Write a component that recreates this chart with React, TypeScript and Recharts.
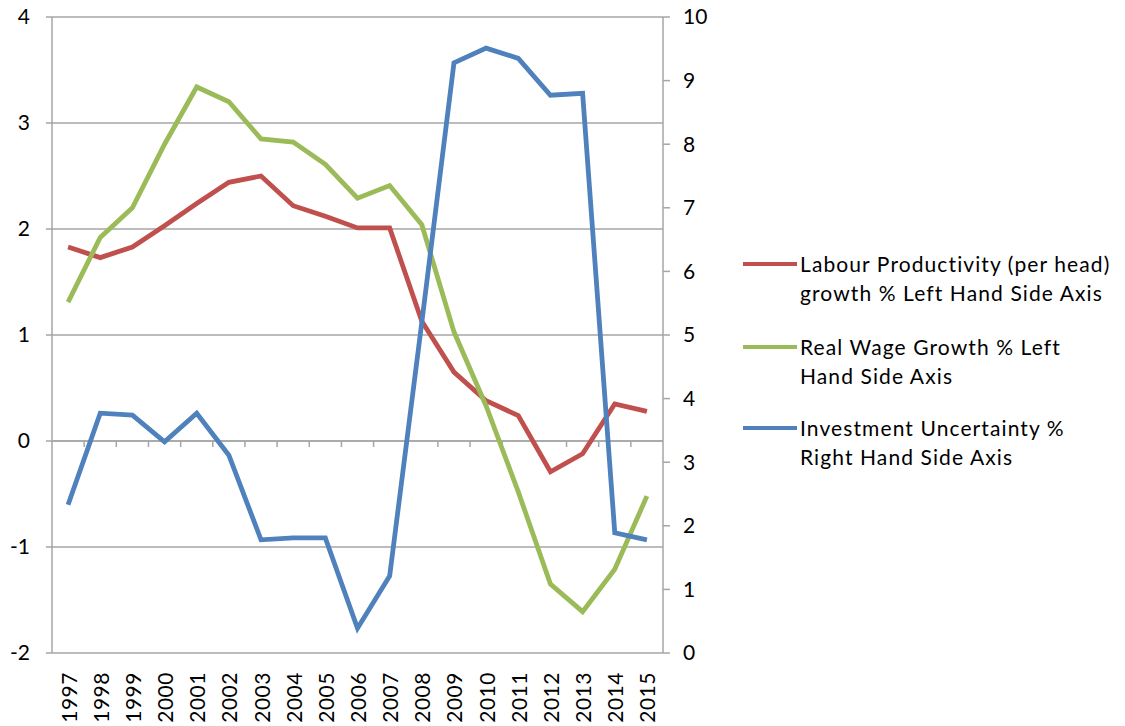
import React from 'react';
import { LineChart, Line, XAxis, YAxis, CartesianGrid, ReferenceLine } from 'recharts';

const years = ['1997','1998','1999','2000','2001','2002','2003','2004','2005','2006','2007','2008','2009','2010','2011','2012','2013','2014','2015'];
const labourProductivity = [1.83, 1.73, 1.83, 2.03, 2.24, 2.44, 2.5, 2.22, 2.12, 2.01, 2.01, 1.13, 0.65, 0.38, 0.24, -0.29, -0.12, 0.35, 0.28];
const realWage = [1.31, 1.92, 2.2, 2.8, 3.34, 3.2, 2.85, 2.82, 2.61, 2.29, 2.41, 2.04, 1.03, 0.33, -0.48, -1.35, -1.61, -1.21, -0.52];
const investmentUncertainty = [2.33, 3.77, 3.74, 3.32, 3.77, 3.11, 1.78, 1.81, 1.81, 0.39, 1.21, 5.2, 9.28, 9.51, 9.35, 8.77, 8.8, 1.89, 1.78];
const leftTicks = [-2, -1, 0, 1, 2, 3, 4];
const rightTicks = [0, 1, 2, 3, 4, 5, 6, 7, 8, 9, 10];

const seriesColors = ['#c0504d', '#9bbb59', '#4f81bd'];
const legendLines = [
  ['Labour Productivity (per head)', 'growth % Left Hand Side Axis'],
  ['Real Wage Growth % Left', 'Hand Side Axis'],
  ['Investment Uncertainty %', 'Right Hand Side Axis'],
];

const data = years.map((y, i) => ({
  year: y,
  lp: labourProductivity[i],
  rw: realWage[i],
  iu: investmentUncertainty[i],
}));

const FONT = 'Lato, "Noto Sans", sans-serif';
const GRID = '#a6a6a6';

const XTick = (props: any) => {
  const { x, payload } = props;
  const yy = 672;
  return (
    <text
      x={x}
      y={yy}
      transform={`rotate(-90, ${x}, ${yy})`}
      textAnchor="end"
      dominantBaseline="central"
      fontSize={21}
      fontFamily={FONT}
      fill="#000"
      letterSpacing={0.5}
    >
      {payload.value}
    </text>
  );
};

const ZeroTicks = (props: any) => {
  const vb = props.viewBox || {};
  const { x, y, width } = vb;
  if (x == null) return null;
  const n = years.length;
  const marks = [];
  for (let i = 1; i < n; i++) {
    const xx = x + (i * width) / n;
    marks.push(<line key={i} x1={xx} x2={xx} y1={y} y2={y + 6} stroke={GRID} strokeWidth={1.5} />);
  }
  return <g>{marks}</g>;
};

export default function App() {
  return (
    <div style={{ position: 'absolute', left: 0, top: 0, width: 1125, height: 726, background: '#fff' }}>
      <LineChart width={1125} height={726} data={data} margin={{ top: 17, right: 402, bottom: 0, left: 0 }}>
        <CartesianGrid vertical={false} stroke={GRID} strokeWidth={1.5} yAxisId="left" />
        <XAxis
          dataKey="year"
          scale="band"
          axisLine={false}
          tickLine={false}
          height={73}
          interval={0}
          tick={<XTick />}
        />
        <YAxis
          yAxisId="left"
          orientation="left"
          domain={[-2, 4]}
          ticks={leftTicks}
          width={52}
          stroke={GRID}
          strokeWidth={1.5}
          tickSize={6}
          tickMargin={16}
          tick={{ fill: '#000', fontSize: 21, fontFamily: FONT }}
          interval={0}
        />
        <YAxis
          yAxisId="right"
          orientation="right"
          domain={[0, 10]}
          ticks={rightTicks}
          width={60}
          stroke={GRID}
          strokeWidth={1.5}
          tickSize={7}
          tickMargin={13}
          tick={{ fill: '#000', fontSize: 21, fontFamily: FONT, textAnchor: 'start' }}
          interval={0}
        />
        <ReferenceLine yAxisId="left" y={0} stroke={GRID} strokeWidth={1.5} label={<ZeroTicks />} />
        <Line yAxisId="left" dataKey="lp" stroke={seriesColors[0]} strokeWidth={4.8} dot={false} isAnimationActive={false} />
        <Line yAxisId="left" dataKey="rw" stroke={seriesColors[1]} strokeWidth={4.8} dot={false} isAnimationActive={false} />
        <Line yAxisId="right" dataKey="iu" stroke={seriesColors[2]} strokeWidth={4.8} dot={false} isAnimationActive={false} />
      </LineChart>
      <div style={{ position: 'absolute', left: 743, top: 249, width: 380, fontFamily: FONT, fontSize: 21, color: '#000', letterSpacing: '1.1px' }}>
        {legendLines.map((lines, i) => (
          <div key={i} style={{ display: 'flex', alignItems: 'flex-start', marginBottom: i === 0 ? 25 : 23 }}>
            <div style={{ width: 54, height: 4, background: seriesColors[i], marginTop: 13, marginRight: 3, flexShrink: 0 }} />
            <div style={{ lineHeight: '29px' }}>
              {lines.map((t, j) => (
                <div key={j} style={{ whiteSpace: 'nowrap' }}>{t}</div>
              ))}
            </div>
          </div>
        ))}
      </div>
    </div>
  );
}
